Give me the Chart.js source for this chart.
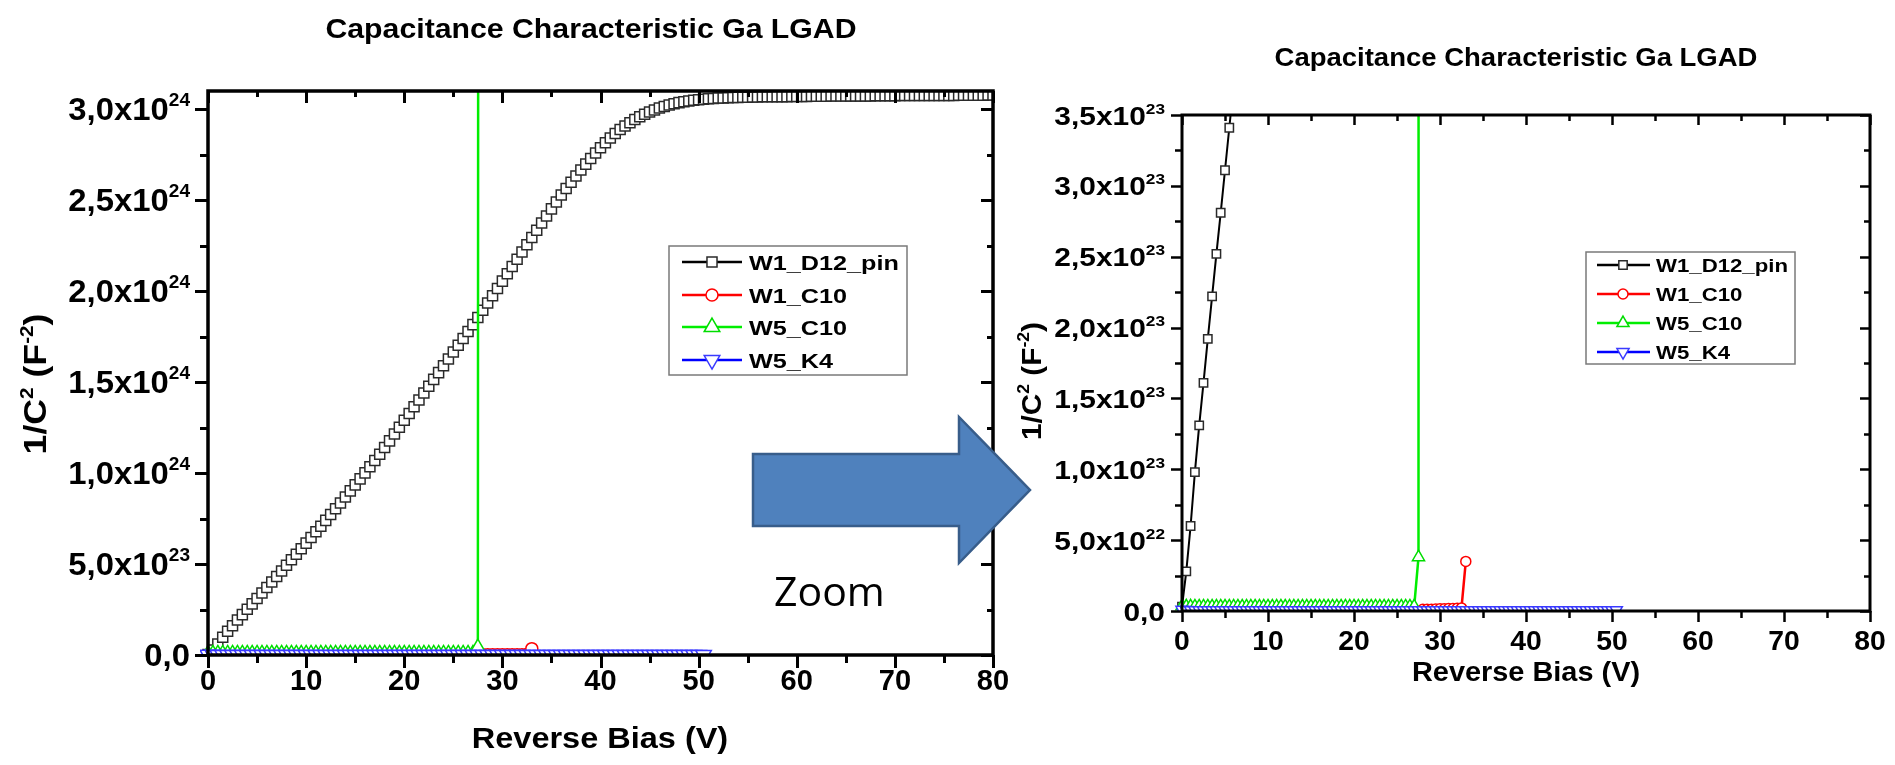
<!DOCTYPE html>
<html>
<head>
<meta charset="utf-8">
<script src="https://cdn.jsdelivr.net/npm/chart.js@4.4.1/dist/chart.umd.min.js"></script>
<style>
  body { margin: 0; background: #fff; width: 1895px; height: 765px; position: relative; overflow: hidden; }
  #full { position: absolute; left: 0; top: 0; }
  #zoomed { position: absolute; left: 1000px; top: 0; }
  #overlay { position: absolute; left: 0; top: 0; pointer-events: none; }
</style>
</head>
<body>
<canvas id="full" width="1040" height="765"></canvas>
<canvas id="zoomed" width="895" height="765"></canvas>
<svg id="overlay" width="1895" height="765">
  <polygon points="753,454 959,454 959,417 1030,490 959,563 959,526 753,526"
           fill="#4f81bd" stroke="#385d8a" stroke-width="2.5"/>
  <text x="774" y="606" font-family="Open Sans" font-size="41" fill="#000">Zoom</text>
</svg>
<script>
// Reverse bias sweep (V), 0.5 V steps
const biasSweep = [
  0, 0.5, 1, 1.5, 2, 2.5, 3, 3.5, 4, 4.5,
  5, 5.5, 6, 6.5, 7, 7.5, 8, 8.5, 9, 9.5,
  10, 10.5, 11, 11.5, 12, 12.5, 13, 13.5, 14, 14.5,
  15, 15.5, 16, 16.5, 17, 17.5, 18, 18.5, 19, 19.5,
  20, 20.5, 21, 21.5, 22, 22.5, 23, 23.5, 24, 24.5,
  25, 25.5, 26, 26.5, 27, 27.5, 28, 28.5, 29, 29.5,
  30, 30.5, 31, 31.5, 32, 32.5, 33, 33.5, 34, 34.5,
  35, 35.5, 36, 36.5, 37, 37.5, 38, 38.5, 39, 39.5,
  40, 40.5, 41, 41.5, 42, 42.5, 43, 43.5, 44, 44.5,
  45, 45.5, 46, 46.5, 47, 47.5, 48, 48.5, 49, 49.5,
  50, 50.5, 51, 51.5, 52, 52.5, 53, 53.5, 54, 54.5,
  55, 55.5, 56, 56.5, 57, 57.5, 58, 58.5, 59, 59.5,
  60, 60.5, 61, 61.5, 62, 62.5, 63, 63.5, 64, 64.5,
  65, 65.5, 66, 66.5, 67, 67.5, 68, 68.5, 69, 69.5,
  70, 70.5, 71, 71.5, 72, 72.5, 73, 73.5, 74, 74.5,
  75, 75.5, 76, 76.5, 77, 77.5, 78, 78.5, 79, 79.5,
  80
];

// 1/C^2 values below are in units of 1e24 F^-2
const pinInvC2 = [
  0.003, 0.028, 0.060, 0.098, 0.131, 0.161, 0.192, 0.222, 0.252, 0.281,
  0.311, 0.341, 0.371, 0.401, 0.432, 0.462, 0.493, 0.523, 0.554, 0.584,
  0.615, 0.646, 0.677, 0.708, 0.740, 0.772, 0.804, 0.836, 0.869, 0.902,
  0.935, 0.968, 1.001, 1.035, 1.069, 1.103, 1.140, 1.177, 1.215, 1.252,
  1.290, 1.327, 1.365, 1.402, 1.440, 1.477, 1.515, 1.552, 1.590, 1.627,
  1.665, 1.702, 1.740, 1.778, 1.816, 1.855, 1.895, 1.935, 1.975, 2.015,
  2.055, 2.095, 2.135, 2.175, 2.215, 2.255, 2.295, 2.335, 2.374, 2.413,
  2.452, 2.490, 2.528, 2.564, 2.599, 2.633, 2.666, 2.698, 2.729, 2.759,
  2.788, 2.816, 2.842, 2.866, 2.888, 2.908, 2.926, 2.943, 2.958, 2.972,
  2.985, 2.996, 3.006, 3.015, 3.023, 3.030, 3.036, 3.041, 3.045, 3.049,
  3.052, 3.055, 3.057, 3.059, 3.061, 3.062, 3.063, 3.064, 3.065, 3.066,
  3.066, 3.067, 3.067, 3.068, 3.068, 3.068, 3.069, 3.069, 3.069, 3.070,
  3.070, 3.070, 3.070, 3.071, 3.071, 3.071, 3.071, 3.072, 3.072, 3.072,
  3.072, 3.073, 3.073, 3.073, 3.073, 3.073, 3.074, 3.074, 3.074, 3.074,
  3.074, 3.075, 3.075, 3.075, 3.075, 3.075, 3.075, 3.076, 3.076, 3.076,
  3.076, 3.076, 3.076, 3.077, 3.077, 3.077, 3.077, 3.077, 3.077, 3.078,
  3.078
];

const w1c10Bias = [28, 28.5, 29, 29.5, 30, 30.5, 31, 31.5, 32, 32.5, 33];
const w1c10InvC2 = [0.0012, 0.0013, 0.0013, 0.0014, 0.0015, 0.0016, 0.0017, 0.0018, 0.0019, 0.0022, 0.035];

// W5_C10 runs 0 .. 28 V; the last point is far above both plots
const w5c10InvC2 = [
  0.0034, 0.0033, 0.0033, 0.0032, 0.0032, 0.0032, 0.0032, 0.0032, 0.0032, 0.0032,
  0.0032, 0.0032, 0.0032, 0.0032, 0.0032, 0.0032, 0.0032, 0.0032, 0.0032, 0.0032,
  0.0032, 0.0032, 0.0032, 0.0032, 0.0032, 0.0032, 0.0032, 0.0032, 0.0032, 0.0032,
  0.0032, 0.0032, 0.0032, 0.0032, 0.0032, 0.0032, 0.0032, 0.0032, 0.0032, 0.0032,
  0.0032, 0.0032, 0.0032, 0.0032, 0.0032, 0.0032, 0.0032, 0.0032, 0.0032, 0.0032,
  0.0032, 0.0032, 0.0032, 0.0032, 0.0033, 0.038, 50
];

// W5_K4 runs 0 .. 50.5 V
const w5k4InvC2 = [
  0.0008, 0.0007, 0.0006, 0.0006, 0.0006, 0.0006, 0.0006, 0.0006, 0.0006, 0.0006,
  0.0006, 0.0006, 0.0006, 0.0006, 0.0006, 0.0006, 0.0006, 0.0006, 0.0006, 0.0006,
  0.0006, 0.0006, 0.0006, 0.0006, 0.0006, 0.0006, 0.0006, 0.0006, 0.0006, 0.0006,
  0.0006, 0.0006, 0.0006, 0.0006, 0.0006, 0.0006, 0.0006, 0.0006, 0.0006, 0.0006,
  0.0006, 0.0006, 0.0006, 0.0006, 0.0006, 0.0006, 0.0006, 0.0006, 0.0006, 0.0006,
  0.0006, 0.0006, 0.0006, 0.0006, 0.0006, 0.0006, 0.0006, 0.0006, 0.0006, 0.0006,
  0.0006, 0.0006, 0.0006, 0.0006, 0.0006, 0.0006, 0.0006, 0.0006, 0.0006, 0.0006,
  0.0006, 0.0006, 0.0006, 0.0006, 0.0006, 0.0006, 0.0006, 0.0006, 0.0006, 0.0006,
  0.0006, 0.0006, 0.0006, 0.0006, 0.0006, 0.0006, 0.0006, 0.0006, 0.0006, 0.0006,
  0.0006, 0.0006, 0.0006, 0.0006, 0.0006, 0.0006, 0.0006, 0.0006, 0.0006, 0.0006,
  0.0006, 0.0006
];

const seriesNames = ['W1_D12_pin', 'W1_C10', 'W5_C10', 'W5_K4'];
const chartTitle = 'Capacitance Characteristic Ga LGAD';
const xTitle = 'Reverse Bias (V)';

const FONT = '"Liberation Sans", Arial, sans-serif';

const toPoints = (xs, ys) => {
  const n = Math.min(xs.length, ys.length);
  const pts = [];
  for (let i = 0; i < n; i++) pts.push({ x: xs[i], y: ys[i] * 1e24 });
  return pts;
};

// text drawn with a horizontal stretch; parts may be raised (superscripts)
function richText(ctx, parts, x, y, sx, align) {
  let total = 0;
  parts.forEach(p => {
    ctx.font = p.font;
    p.w = ctx.measureText(p.t).width * sx;
    total += p.w;
  });
  let cx = align === 'center' ? x - total / 2 : align === 'right' ? x - total : x;
  parts.forEach(p => {
    ctx.save();
    ctx.font = p.font;
    ctx.textAlign = 'left';
    ctx.textBaseline = 'alphabetic';
    ctx.translate(cx, y - (p.rise || 0));
    ctx.scale(sx, 1);
    ctx.fillText(p.t, 0, 0);
    ctx.restore();
    cx += p.w;
  });
}

function drawMarker(ctx, style, x, y, r, rot) {
  ctx.beginPath();
  if (style === 'rect') {
    const s = r * Math.SQRT1_2;
    ctx.rect(x - s, y - s, 2 * s, 2 * s);
  } else if (style === 'circle') {
    ctx.arc(x, y, r, 0, Math.PI * 2);
  } else {
    const d = rot ? -1 : 1;
    ctx.moveTo(x, y - d * r);
    ctx.lineTo(x + r * 0.866, y + d * r / 2);
    ctx.lineTo(x - r * 0.866, y + d * r / 2);
    ctx.closePath();
  }
  ctx.fill();
  ctx.stroke();
}

// Origin-style frame: axes, in/out ticks, sci-notation labels, titles, boxed legend
function makeFrame(cfg) {
  return {
    id: 'originFrame',
    beforeDraw(chart) {
      if (!cfg.background) return;
      const ctx = chart.ctx;
      ctx.save();
      ctx.fillStyle = cfg.background;
      ctx.fillRect(0, 0, chart.width, chart.height);
      ctx.restore();
    },
    afterDatasetsDraw(chart) {
      const { ctx, chartArea: a, scales: { x, y } } = chart;
      ctx.save();
      ctx.strokeStyle = '#000';
      ctx.fillStyle = '#000';
      ctx.lineCap = 'butt';

      // ticks
      ctx.lineWidth = cfg.tickWidth;
      ctx.beginPath();
      for (let k = 0; k * cfg.xMinor <= cfg.xMax + 1e-9; k++) {
        const px = Math.round(x.getPixelForValue(k * cfg.xMinor)) + 0.5;
        const major = k % 2 === 0;
        ctx.moveTo(px, a.bottom);
        ctx.lineTo(px, a.bottom + (major ? cfg.tickOut[0] : cfg.tickOut[1]));
        ctx.moveTo(px, a.top);
        ctx.lineTo(px, a.top + (major ? cfg.tickIn[0] : cfg.tickIn[1]));
      }
      for (let k = 0; k * cfg.yMinor <= cfg.yMax * 1.0001; k++) {
        const py = Math.round(y.getPixelForValue(k * cfg.yMinor)) + 0.5;
        const major = k % 2 === 0;
        ctx.moveTo(a.left, py);
        ctx.lineTo(a.left - (major ? cfg.tickOut[0] : cfg.tickOut[1]), py);
        ctx.moveTo(a.right, py);
        ctx.lineTo(a.right - (major ? cfg.tickIn[0] : cfg.tickIn[1]), py);
      }
      ctx.stroke();

      // frame
      ctx.lineWidth = cfg.axisWidth;
      ctx.strokeRect(a.left, a.top, a.right - a.left, a.bottom - a.top);

      // x tick labels
      for (let k = 0; k * cfg.xMinor <= cfg.xMax + 1e-9; k += 2) {
        const v = k * cfg.xMinor;
        richText(ctx, [{ t: String(v), font: `bold ${cfg.xTick.size}px ${FONT}` }],
          x.getPixelForValue(v), cfg.xTick.baseline, cfg.xTick.sx, 'center');
      }
      // y tick labels, e.g. 3,0x10^24
      for (let k = 0; k * cfg.yMinor <= cfg.yMax * 1.0001; k += 2) {
        const v = k * cfg.yMinor;
        const py = y.getPixelForValue(v);
        const t = cfg.yTick;
        let parts;
        if (v === 0) {
          parts = [{ t: '0,0', font: `bold ${t.size}px ${FONT}` }];
        } else {
          const e = Math.floor(Math.log10(v) + 1e-9);
          const m = (v / Math.pow(10, e)).toFixed(1).replace('.', ',');
          parts = [
            { t: m + 'x10', font: `bold ${t.size}px ${FONT}` },
            { t: String(e), font: `bold ${t.supSize}px ${FONT}`, rise: t.rise }
          ];
        }
        richText(ctx, parts, t.right, py + t.drop, t.sx, 'right');
      }

      // titles
      const tt = cfg.title;
      richText(ctx, [{ t: chartTitle, font: `bold ${tt.size}px ${FONT}` }], tt.x, tt.baseline, tt.sx, 'center');
      const xt = cfg.xTitle;
      richText(ctx, [{ t: xTitle, font: `bold ${xt.size}px ${FONT}` }], xt.x, xt.baseline, xt.sx, 'center');
      const yt = cfg.yTitle;
      ctx.save();
      ctx.translate(yt.baseline, yt.y);
      ctx.rotate(-Math.PI / 2);
      richText(ctx, [
        { t: '1/C', font: `bold ${yt.size}px ${FONT}` },
        { t: '2', font: `bold ${yt.supSize}px ${FONT}`, rise: yt.rise },
        { t: ' (F', font: `bold ${yt.size}px ${FONT}` },
        { t: '-2', font: `bold ${yt.supSize}px ${FONT}`, rise: yt.rise },
        { t: ')', font: `bold ${yt.size}px ${FONT}` }
      ], 0, 0, yt.sx, 'center');
      ctx.restore();

      // legend
      const lg = cfg.legend;
      ctx.fillStyle = '#ffffff';
      ctx.fillRect(lg.box[0], lg.box[1], lg.box[2] - lg.box[0], lg.box[3] - lg.box[1]);
      ctx.strokeStyle = '#7a7a7a';
      ctx.lineWidth = 1.5;
      ctx.strokeRect(lg.box[0], lg.box[1], lg.box[2] - lg.box[0], lg.box[3] - lg.box[1]);
      chart.data.datasets.forEach((ds, i) => {
        const ry = lg.rows[i];
        ctx.strokeStyle = ds.borderColor;
        ctx.lineWidth = lg.lineWidth;
        ctx.beginPath();
        ctx.moveTo(lg.lineX[0], ry);
        ctx.lineTo(lg.lineX[1], ry);
        ctx.stroke();
        ctx.fillStyle = '#fff';
        ctx.strokeStyle = ds.pointBorderColor;
        ctx.lineWidth = 1.5;
        drawMarker(ctx, ds.pointStyle, lg.markX, ry, ds.pointRadius * lg.markScale, ds.pointRotation);
        ctx.fillStyle = '#000';
        richText(ctx, [{ t: ds.label, font: `bold ${lg.size}px ${FONT}` }], lg.textX, ry + lg.drop, lg.sx, 'left');
      });
      ctx.restore();
    }
  };
}

function buildDatasets(sz) {
  const common = { pointBackgroundColor: '#fff', pointBorderWidth: sz.mark, tension: 0,
                   clip: { left: 8, top: 0, right: 0, bottom: 1 } };
  return [
    { ...common, label: seriesNames[0], data: toPoints(biasSweep, pinInvC2),
      borderColor: '#000000', pointBorderColor: '#2a2a2a', borderWidth: sz.pinLine,
      pointStyle: 'rect', pointRadius: sz.rect, order: 3 },
    { ...common, label: seriesNames[1], data: toPoints(w1c10Bias, w1c10InvC2),
      borderColor: '#ff0000', pointBorderColor: '#ff0000', borderWidth: sz.line,
      pointStyle: 'circle', pointRadius: sz.circle, order: 2 },
    { ...common, label: seriesNames[2], data: toPoints(biasSweep, w5c10InvC2),
      borderColor: '#00ee00', pointBorderColor: '#00dd00', borderWidth: sz.line,
      pointStyle: 'triangle', pointRadius: sz.tri, order: 1 },
    { ...common, label: seriesNames[3], data: toPoints(biasSweep, w5k4InvC2),
      borderColor: '#0000ff', pointBorderColor: '#3a3aff', borderWidth: sz.line,
      pointStyle: 'triangle', pointRotation: 180, pointRadius: sz.tri, order: 0 }
  ];
}

function makeChart(canvas, cfg) {
  const W = canvas.width, H = canvas.height;
  return new Chart(canvas, {
    type: 'line',
    data: { datasets: buildDatasets(cfg.sizes) },
    options: {
      responsive: false,
      animation: false,
      devicePixelRatio: 1,
      events: [],
      layout: { padding: { left: cfg.area.left, top: cfg.area.top, right: W - cfg.area.right, bottom: H - cfg.area.bottom } },
      plugins: { legend: { display: false }, tooltip: { enabled: false }, title: { display: false } },
      scales: {
        x: { type: 'linear', min: 0, max: cfg.xMax, display: false },
        y: { type: 'linear', min: 0, max: cfg.yMax, display: false }
      }
    },
    plugins: [makeFrame(cfg)]
  });
}

// full range view
makeChart(document.getElementById('full'), {
  background: '#ffffff',
  area: { left: 208, right: 993, top: 91, bottom: 655 },
  xMax: 80, xMinor: 5,
  yMax: 3.1e24, yMinor: 0.25e24,
  axisWidth: 3.5, tickWidth: 3, tickOut: [13, 8], tickIn: [12, 6],
  xTick: { size: 29, sx: 1.0, baseline: 690 },
  yTick: { size: 31, supSize: 18, rise: 14, sx: 1.06, right: 190, drop: 11 },
  title: { size: 27, sx: 1.12, x: 591, baseline: 38 },
  xTitle: { size: 29, sx: 1.12, x: 600, baseline: 748 },
  yTitle: { size: 31, supSize: 18, rise: 13, sx: 1.15, baseline: 46, y: 384 },
  legend: { box: [669, 246, 907, 375], lineX: [682, 742], markX: 712, textX: 749,
            rows: [262, 295, 327, 360], size: 21, sx: 1.2, drop: 7.5, lineWidth: 2.5, markScale: 1 },
  sizes: { rect: 7.1, circle: 6, tri: 9, line: 2.5, pinLine: 1.5, mark: 1.5 }
});

// zoom on the low 1/C^2 region (transparent canvas so the left plot's last label shows through)
makeChart(document.getElementById('zoomed'), {
  background: null,
  area: { left: 182, right: 870, top: 115, bottom: 611 },
  xMax: 80, xMinor: 5,
  yMax: 3.5e23, yMinor: 0.25e23,
  axisWidth: 3, tickWidth: 2.5, tickOut: [11, 7], tickIn: [10, 6],
  xTick: { size: 27, sx: 1.05, baseline: 650 },
  yTick: { size: 26, supSize: 15, rise: 11, sx: 1.15, right: 165, drop: 9.5 },
  title: { size: 25, sx: 1.1, x: 516, baseline: 66 },
  xTitle: { size: 27, sx: 1.07, x: 526, baseline: 681 },
  yTitle: { size: 27, supSize: 16, rise: 12, sx: 1.1, baseline: 41, y: 381 },
  legend: { box: [586, 252, 795, 364], lineX: [597, 650], markX: 623, textX: 656,
            rows: [265, 294, 323, 352], size: 18.5, sx: 1.2, drop: 6.5, lineWidth: 2.5, markScale: 1 },
  sizes: { rect: 5.9, circle: 5, tri: 7, line: 2.5, pinLine: 2, mark: 1.5 }
});
</script>
</body>
</html>
